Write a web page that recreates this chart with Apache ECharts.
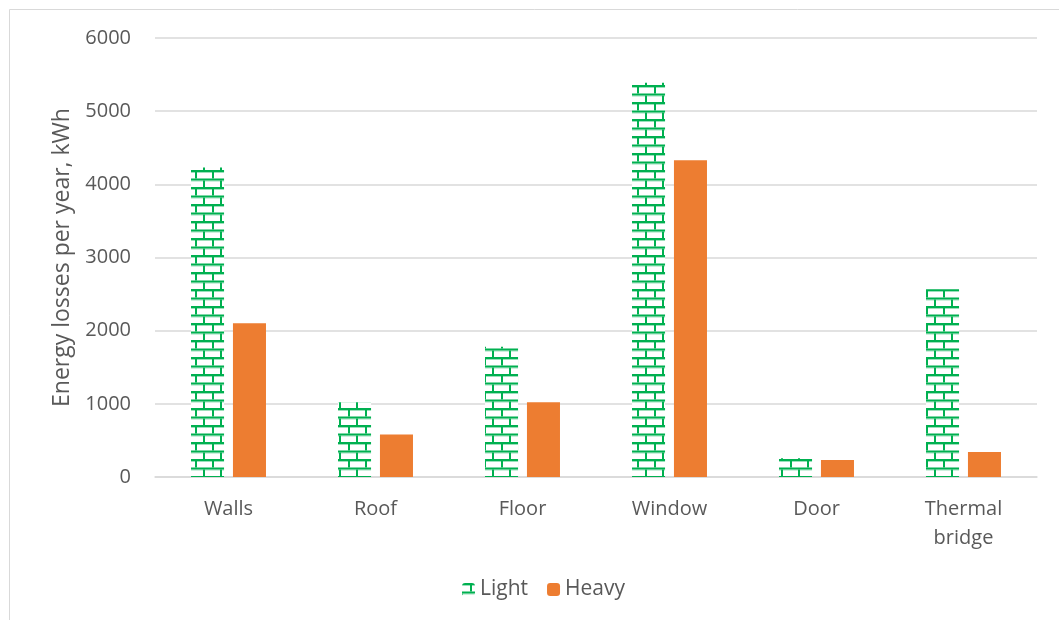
<!DOCTYPE html>
<html>
<head>
<meta charset="utf-8">
<script src="https://cdn.jsdelivr.net/npm/echarts@6/dist/echarts.min.js"></script>
<style>
  html, body { margin: 0; padding: 0; background: #fff; }
  #chart { width: 1059px; height: 620px; }
</style>
</head>
<body>
<div id="chart"></div>
<script>
// Annual energy losses by building element, light vs heavy construction
const categories = ['Walls', 'Roof', 'Floor', 'Window', 'Door', 'Thermal\nbridge'];
const lightValues = [4230, 1020, 1780, 5390, 255, 2565];
const heavyValues = [2100, 580, 1020, 4330, 232, 342];
const yTicks = [0, 1000, 2000, 3000, 4000, 5000, 6000];

// Brick hatch used for the "Light" series
function brickTile() {
  const s = 17;
  const c = document.createElement('canvas');
  c.width = s; c.height = s;
  const g = c.getContext('2d');
  g.fillStyle = '#ffffff';
  g.fillRect(0, 0, s, s);
  g.fillStyle = '#9be0bb';
  g.fillRect(0, 2, s, 1);
  g.fillRect(0, 10.5, s, 1);
  g.fillStyle = '#00B050';
  g.fillRect(0, 0, s, 2);
  g.fillRect(0, 8.5, s, 2);
  g.fillRect(8, 2, 2, 6.5);
  g.fillRect(0, 10.5, 1, 6.5);
  g.fillRect(16, 10.5, 1, 6.5);
  return c;
}

const textColor = '#595959';
const font = '"Open Sans", Lato, sans-serif';

const chart = echarts.init(document.getElementById('chart'), null, { renderer: 'canvas' });
chart.setOption({
  animation: false,
  backgroundColor: '#ffffff',
  textStyle: { fontFamily: font, color: textColor },
  graphic: [{
    type: 'rect',
    silent: true,
    shape: { x: 9.5, y: 9.5, width: 1200, height: 800 },
    style: { fill: 'none', stroke: '#d9d9d9', lineWidth: 1 },
    z: -1
  }],
  grid: { left: 155, right: 22, top: 38, bottom: 143, containLabel: false },
  legend: {
    bottom: 15,
    left: 457,
    itemWidth: 13,
    itemHeight: 13,
    itemGap: 19,
    textStyle: { fontFamily: font, fontSize: 21, color: textColor },
    data: ['Light', 'Heavy']
  },
  xAxis: {
    type: 'category',
    data: categories,
    axisLine: { show: true, lineStyle: { color: '#d9d9d9', width: 1.5 } },
    axisTick: { show: false },
    axisLabel: { fontFamily: font, fontSize: 20, color: textColor, margin: 18, lineHeight: 29 }
  },
  yAxis: {
    type: 'value',
    min: yTicks[0],
    max: yTicks[yTicks.length - 1],
    interval: 1000,
    name: 'Energy losses per year, kWh',
    nameLocation: 'middle',
    nameGap: 80,
    nameTextStyle: { fontFamily: font, fontSize: 23, color: textColor },
    axisLine: { show: false },
    axisTick: { show: false },
    splitLine: { lineStyle: { color: '#d9d9d9', width: 1.5 } },
    axisLabel: {
      fontFamily: font, fontSize: 20, color: textColor, margin: 24,
      formatter: v => String(v)
    }
  },
  series: [
    {
      name: 'Light',
      type: 'bar',
      data: lightValues,
      barCategoryGap: '49%',
      barGap: '27%',
      itemStyle: { color: { image: brickTile(), repeat: 'repeat' } }
    },
    {
      name: 'Heavy',
      type: 'bar',
      data: heavyValues,
      barCategoryGap: '49%',
      barGap: '27%',
      itemStyle: { color: '#ED7D31' }
    }
  ]
});
</script>
</body>
</html>
